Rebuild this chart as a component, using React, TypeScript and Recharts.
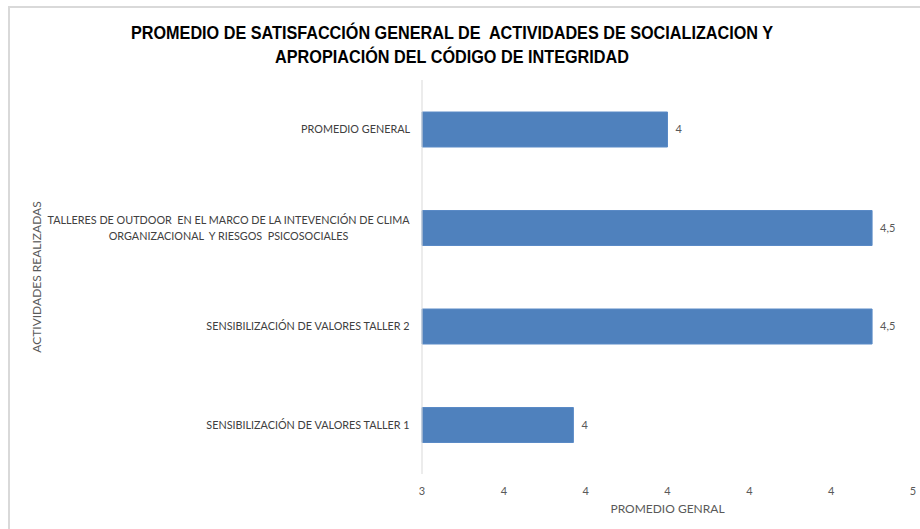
import React from 'react';
import { BarChart, Bar, XAxis, YAxis, LabelList } from 'recharts';

// categories from top to bottom, as in the reference
const categories = [
    'PROMEDIO GENERAL',
    'TALLERES DE OUTDOOR  EN EL MARCO DE LA INTEVENCIÓN DE CLIMA|ORGANIZACIONAL  Y RIESGOS  PSICOSOCIALES',
    'SENSIBILIZACIÓN DE VALORES TALLER 2',
    'SENSIBILIZACIÓN DE VALORES TALLER 1',
];
const promedios = [4.0, 4.5, 4.5, 3.77];
const valueLabels = ['4', '4,5', '4,5', '4'];
const xTicks = [3.4, 3.6, 3.8, 4.0, 4.2, 4.4, 4.6];

const data = categories.map((name, i) => ({ name, value: promedios[i], label: valueLabels[i] }));

const TEXT_FONT = 'Lato, "Open Sans", sans-serif';
const GREY = '#595959';
const TICK_SIZE = 10.8;

let ctx: CanvasRenderingContext2D | null = null;
function textWidth(s: string, font: string) {
    if (!ctx) ctx = document.createElement('canvas').getContext('2d');
    if (!ctx) return s.length * 6;
    ctx.font = font;
    return ctx.measureText(s).width;
}

function CategoryTick(props: any) {
    const { x, y, payload } = props;
    const lines: string[] = String(payload.value).split('|');
    const font = `${TICK_SIZE}px ${TEXT_FONT}`;
    const w = Math.max(...lines.map((l) => textWidth(l, font)));
    const cx = x - 4 - w / 2;
    const lh = 16;
    const y0 = y - ((lines.length - 1) * lh) / 2;
    return (
        <g>
            {lines.map((l, i) => (
                <text
                    key={i}
                    x={cx}
                    y={y0 + i * lh}
                    dy="0.35em"
                    textAnchor="middle"
                    fill="#404040"
                    fontSize={TICK_SIZE}
                    fontFamily={TEXT_FONT}
                    style={{ whiteSpace: 'pre' }}
                >
                    {l}
                </text>
            ))}
        </g>
    );
}

export default function App() {
    return (
        <div style={{ position: 'absolute', left: 0, top: 0, width: 920, height: 529, background: '#fff' }}>
            <div
                style={{
                    position: 'absolute',
                    left: 8,
                    top: 6,
                    width: 912,
                    height: 523,
                    borderTop: '2px solid #d9d9d9',
                    borderLeft: '2px solid #d9d9d9',
                    boxSizing: 'border-box',
                }}
            />
            <svg width={920} height={80} style={{ position: 'absolute', left: 0, top: 0 }}>
                <text
                    x={452}
                    y={39}
                    textAnchor="middle"
                    fontFamily='"Liberation Sans", Arial, sans-serif'
                    fontWeight="bold"
                    fontSize={18}
                    fill="#000"
                    textLength={642}
                    lengthAdjust="spacingAndGlyphs"
                    style={{ whiteSpace: 'pre' }}
                >
                    PROMEDIO DE SATISFACCIÓN GENERAL DE  ACTIVIDADES DE SOCIALIZACION Y
                </text>
                <text
                    x={452}
                    y={63}
                    textAnchor="middle"
                    fontFamily='"Liberation Sans", Arial, sans-serif'
                    fontWeight="bold"
                    fontSize={18}
                    fill="#000"
                    textLength={354}
                    lengthAdjust="spacingAndGlyphs"
                >
                    APROPIACIÓN DEL CÓDIGO DE INTEGRIDAD
                </text>
            </svg>
            <div style={{ position: 'absolute', left: 0, top: 0 }}>
                <BarChart
                    width={920}
                    height={529}
                    data={data}
                    layout="vertical"
                    margin={{ top: 80, right: 7, bottom: 0, left: 0 }}
                    barCategoryGap={0}
                >
                    <XAxis
                        type="number"
                        domain={[3.4, 4.6]}
                        ticks={xTicks}
                        interval={0}
                        axisLine={false}
                        tickLine={false}
                        tickFormatter={(v: number) => Math.round(v).toString()}
                        tick={{ fill: GREY, fontSize: 11, fontFamily: TEXT_FONT }}
                        tickMargin={7}
                        height={55}
                        label={{
                            value: 'PROMEDIO GENRAL',
                            position: 'insideBottom',
                            offset: 16,
                            fill: GREY,
                            fontSize: 12,
                            fontFamily: TEXT_FONT,
                        }}
                    />
                    <YAxis
                        type="category"
                        dataKey="name"
                        width={422}
                        axisLine={{ stroke: '#d9d9d9', strokeWidth: 1 }}
                        tickLine={false}
                        tick={<CategoryTick />}
                        interval={0}
                        label={{
                            value: 'ACTIVIDADES REALIZADAS',
                            angle: -90,
                            position: 'insideLeft',
                            offset: 37,
                            fill: GREY,
                            fontSize: 12,
                            fontFamily: TEXT_FONT,
                            style: { textAnchor: 'middle' },
                        }}
                    />
                    <Bar dataKey="value" fill="#4f81bd" stroke="#5a8ac6" strokeWidth={1} barSize={35} isAnimationActive={false}>
                        <LabelList
                            dataKey="label"
                            position="right"
                            offset={8}
                            fill={GREY}
                            fontSize={11}
                            fontFamily={TEXT_FONT}
                        />
                    </Bar>
                </BarChart>
            </div>
        </div>
    );
}
